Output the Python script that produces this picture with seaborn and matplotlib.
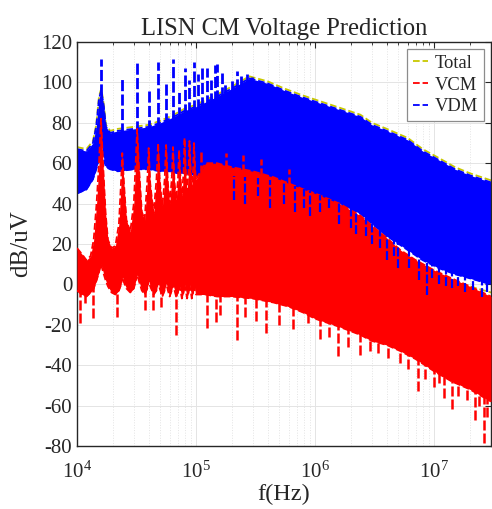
import numpy as np
import pandas as pd
import matplotlib
matplotlib.use("Agg")
import matplotlib.pyplot as plt
import seaborn as sns
from matplotlib.lines import Line2D
from matplotlib.ticker import LogLocator, NullFormatter, FixedLocator

sns.set_theme(style="white")
plt.rcParams['font.family'] = ['Liberation Serif', 'DejaVu Serif']
plt.rcParams['mathtext.fontset'] = 'stix'

title = "LISN CM Voltage Prediction"
x_label = "f(Hz)"
y_label = "dB/uV"
series_names = ["Total", "VCM", "VDM"]
series_colors = {"Total": "#c8c800", "VCM": "#ff0000", "VDM": "#0000ff"}
y_ticks = [-80, -60, -40, -20, 0, 20, 40, 60, 80, 100, 120]

# ---- VDM (blue) envelope ----
vdm_f = [1.0e4, 1.2e4, 1.36e4, 1.45e4, 1.53e4, 1.6e4, 1.68e4, 1.75e4, 1.9e4, 2.2e4,
         3.0e4, 4.0e4, 5.0e4, 6.0e4, 7.0e4, 8.0e4, 1.0e5, 1.5e5, 2.0e5, 2.8e5,
         4.0e5, 5.5e5, 7.5e5, 1.0e6, 1.6e6, 2.4e6, 3.0e6, 4.0e6, 6.0e6, 8.0e6,
         1.1e7, 1.5e7, 2.0e7, 3.0e7]
vdm_hi = [67, 66, 70, 78, 92, 96, 88, 78, 75, 76,
          77, 78, 80, 82, 84, 86, 88, 93, 97, 102,
          99.5, 96, 93, 90.5, 86.5, 83, 79, 76, 71.5, 66,
          61.5, 57, 54, 50.5]
vdm_lo = [45, 47, 52, 57, 62, 70, 62, 58, 57, 56,
          57, 57, 56, 56, 55, 55, 54, 53, 52, 51,
          50, 48, 46, 43, 40, 35, 30, 24, 17, 12,
          8, 5, 3, 0]
# Total (yellow) upper edge, just above the VDM band
total_hi = [68, 67, 71, 79, 93, 97, 89, 79, 76, 77,
            78, 79, 81, 83, 85, 87, 89, 94, 98, 103,
            100.5, 97, 94, 91.5, 87.5, 84, 80, 77, 72.5, 67,
            62.5, 58, 55, 51.5]
# Total lower edge where it shows in the gap (high frequencies)
total_lo_f = [1.6e6, 2.4e6, 3.0e6, 4.0e6, 6.0e6, 8.0e6, 1.1e7, 1.5e7, 2.0e7, 3.0e7]
total_lo = [37, 31, 26, 20, 13, 8, 4, 1, -1, -4]

# VDM harmonic peaks (upward spikes)
vdm_peak_f = [1.6e4, 2.4e4, 3.2e4, 4.0e4, 4.8e4, 5.6e4, 6.4e4, 7.2e4, 8.0e4, 8.8e4,
              9.6e4, 1.04e5, 1.12e5, 1.23e5, 1.33e5, 1.43e5, 1.5e5, 1.65e5, 1.75e5,
              2.0e5, 2.2e5, 2.4e5, 2.67e5, 2.93e5]
vdm_peak_db = [111.5, 101.5, 109.5, 96, 110, 99, 111.5, 96, 107, 101,
               110, 104, 107, 107, 101, 108.6, 109, 104.6, 100,
               101, 105.6, 103, 104, 102.8]
# VDM downward spikes
vdm_notch_f = [2.1e5, 2.6e5, 3.3e5, 4.2e5, 5.5e5, 6.8e5, 8.0e5, 9.0e5,
               1.1e6, 1.3e6, 1.6e6, 2.0e6, 2.2e6, 2.7e6, 3.0e6, 3.5e6, 4.0e6, 4.6e6,
               5.0e6, 6.2e6, 7.5e6, 8.7e6, 9.5e6, 1.1e7, 1.25e7, 1.4e7, 1.6e7, 1.8e7,
               2.1e7, 2.5e7, 2.8e7]
vdm_notch_db = [42, 40, 44, 38, 40, 36, 38, 34,
                36, 38, 30, 28, 25, 24, 20, 18, 12, 14,
                8, 8, 2, -5, 3, 0, -1, -2, -1, -4,
                -3, -6, -4]

# ---- VCM (red) envelope ----
vcm_f = [1.00e4, 1.10e4, 1.20e4, 1.30e4, 1.38e4, 1.46e4, 1.53e4, 1.59e4, 1.66e4, 1.74e4,
         1.82e4, 1.95e4, 2.10e4, 2.25e4, 2.35e4, 2.40e4, 2.48e4, 2.60e4, 2.80e4, 3.00e4,
         3.12e4, 3.20e4, 3.30e4, 3.50e4, 3.70e4, 3.90e4, 4.00e4, 4.12e4, 4.40e4, 4.65e4,
         4.80e4, 4.95e4, 5.20e4, 5.45e4, 5.60e4, 5.80e4, 6.00e4, 6.25e4, 6.40e4, 6.60e4,
         6.80e4, 7.05e4, 7.20e4, 7.45e4, 7.60e4, 7.85e4, 8.00e4, 8.25e4, 8.40e4, 8.65e4,
         8.80e4, 9.05e4, 9.20e4, 9.45e4, 9.60e4, 9.85e4, 1.00e5, 1.20e5, 1.50e5, 2.00e5,
         3.00e5, 4.50e5, 6.00e5, 8.00e5, 1.00e6, 1.60e6, 2.40e6, 3.00e6, 4.00e6, 5.20e6,
         7.00e6, 1.00e7, 1.40e7, 2.00e7, 3.00e7]
vcm_hi = [18, 15, 12, 14, 22, 40, 60, 82, 58, 35,
          22, 18, 19, 30, 52, 65, 50, 32, 26, 40,
          62, 77, 60, 36, 32, 52, 67.5, 50, 35, 52,
          70, 52, 38, 52, 69, 50, 40, 52, 68, 50,
          42, 52, 66.5, 50, 44, 55, 72.5, 52, 46, 56,
          71, 55, 48, 57, 70, 56, 52, 60, 60, 58,
          56, 53, 50, 47, 45, 40, 34, 29, 23, 17,
          12, 7, 3, -1, -6]
vcm_lo = [-3, -5, -6, -4, -2, 2, 6, 10, 6, 2,
          -1, -4, -5, -3, 0, 4, 1, -2, -4, -2,
          2, 5, 2, -3, -5, -2, 2, -1, -5, -3,
          1, -2, -6, -3, 1, -3, -6, -3, 0, -3,
          -6, -4, 0, -4, -7, -4, 0, -4, -7, -4,
          0, -4, -7, -4, 0, -4, -5, -5, -6, -6,
          -7, -9, -11, -14, -17, -21, -25, -28, -30, -33,
          -37, -43, -48, -52, -58]
# VCM downward spikes
vcm_notch_f = [1.07e4, 1.17e4, 1.37e4, 2.18e4, 3.7e4, 4.33e4, 5.07e4, 6.79e4, 1.23e5, 1.47e5,
               1.6e5, 2.2e5, 2.6e5, 3.2e5, 3.9e5, 5.0e5, 6.5e5, 8.7e5, 1.1e6, 1.3e6,
               1.56e6, 1.9e6, 2.37e6, 2.9e6, 3.4e6, 4.1e6, 5.2e6, 6.0e6, 7.3e6, 8.3e6,
               9.9e6, 1.1e7, 1.2e7, 1.4e7, 1.6e7, 1.9e7, 2.2e7, 2.4e7, 2.6e7, 2.8e7]
vcm_notch_db = [-19, -9, -16.6, -16, -12.7, -12.7, -11, -25, -21.6, -18.5,
                -15, -27.5, -16, -18, -24, -20, -22, -19, -27, -26,
                -35.5, -31, -35, -33, -34, -36.5, -39, -42, -53, -47,
                -51, -49, -56, -61.5, -55, -57, -67, -60, -78.5, -65.5]
# VCM upward spikes
vcm_peak_f = [1.1e5, 1.8e5, 2.5e5, 3.5e5, 6.0e5]
vcm_peak_db = [66, 65, 64, 62, 57]

# ---------------------------------------------------------------
fig = plt.figure(figsize=(4.92, 5.09), dpi=100)
ax = fig.add_axes([77 / 492, 63 / 509, 414 / 492, 404 / 509])
ax.set_xscale("log")

dash = (0, (4, 1.2))

def edge(freqs, vals, color, z, lw=1.3):
    df = pd.DataFrame({"f": freqs, "dB": vals})
    sns.lineplot(data=df, x="f", y="dB", ax=ax, color=color, lw=lw,
                 linestyle="--", zorder=z, legend=False, sort=False)

def base_of(freqs, ref_f, ref_v):
    return np.interp(np.log10(freqs), np.log10(ref_f), ref_v)

# Total (drawn first, mostly hidden)
edge(vdm_f, total_hi, series_colors["Total"], 1.5)
edge(total_lo_f, total_lo, series_colors["Total"], 1.5)

# VDM band
ax.fill_between(vdm_f, vdm_lo, vdm_hi, color=series_colors["VDM"], lw=0, zorder=2)
edge(vdm_f, vdm_hi, series_colors["VDM"], 2.1)
edge(vdm_f, vdm_lo, series_colors["VDM"], 2.1)
ax.vlines(vdm_peak_f, base_of(vdm_peak_f, vdm_f, vdm_hi) - 2, vdm_peak_db,
          color=series_colors["VDM"], lw=2.0, linestyles=dash, zorder=2.2)

# VCM band
ax.fill_between(vcm_f, vcm_lo, vcm_hi, color=series_colors["VCM"], lw=0, zorder=3)
edge(vcm_f, vcm_hi, series_colors["VCM"], 3.1)
edge(vcm_f, vcm_lo, series_colors["VCM"], 3.1)
ax.vlines(vcm_notch_f, vcm_notch_db, base_of(vcm_notch_f, vcm_f, vcm_lo) + 2,
          color=series_colors["VCM"], lw=1.8, linestyles=dash, zorder=3.2)
ax.vlines(vcm_peak_f, base_of(vcm_peak_f, vcm_f, vcm_hi) - 2, vcm_peak_db,
          color=series_colors["VCM"], lw=1.8, linestyles=dash, zorder=3.2)

# VDM notches reaching down over the red band
ax.vlines(vdm_notch_f, vdm_notch_db, base_of(vdm_notch_f, vdm_f, vdm_lo) + 2,
          color=series_colors["VDM"], lw=1.6, linestyles=dash, zorder=3.5)

ax.set_xlim(1e4, 3e7)
ax.set_ylim(-80, 120)
ax.set_yticks(y_ticks)
ax.set_yticklabels([str(v) for v in y_ticks])
ax.xaxis.set_major_locator(FixedLocator([1e4, 1e5, 1e6, 1e7]))
ax.xaxis.set_minor_locator(LogLocator(base=10, subs=np.arange(2, 10), numticks=20))
ax.xaxis.set_minor_formatter(NullFormatter())

ax.set_axisbelow(True)
ax.grid(True, which="major", color="#e4e4e4", lw=0.7)
ax.grid(True, which="minor", axis="x", color="#e4e4e4", lw=0.7, ls=":")

ax.tick_params(which="both", direction="in", top=True, right=True,
               colors="#262626", labelsize=15)
ax.tick_params(which="major", length=4.5, width=0.8)
ax.tick_params(which="minor", length=2.5, width=0.6)
ax.tick_params(axis="x", pad=11)
for s in ax.spines.values():
    s.set_color("#262626")
    s.set_linewidth(1.0)

ax.set_title(title, fontsize=17.7, color="#262626", pad=5)
ax.set_xlabel(x_label, fontsize=17.5, color="#262626", labelpad=1)
ax.set_ylabel(y_label, fontsize=18, color="#262626")
ax.yaxis.set_label_coords(-0.108, 0.50)

handles = [Line2D([0], [0], color=series_colors[n], lw=1.3, linestyle="--") for n in series_names]
leg = ax.legend(handles, series_names, loc="upper right", fontsize=13.3,
                frameon=True, fancybox=False, edgecolor="#8c8c8c", framealpha=1,
                handlelength=0.85, handletextpad=0.35, borderpad=0.3,
                labelspacing=0.25, borderaxespad=0.4)
leg.get_frame().set_linewidth(0.9)
leg.set_zorder(10)

fig.savefig("out.png", dpi=100)
